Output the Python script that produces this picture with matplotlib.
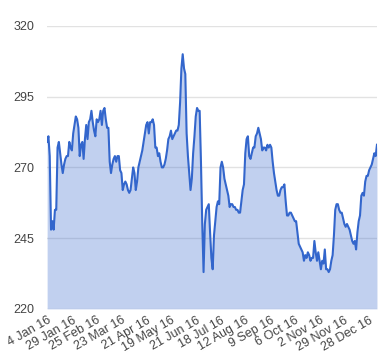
import matplotlib
matplotlib.use("Agg")
import matplotlib.pyplot as plt

# closing price per trading day
prices = [
    279, 281, 274, 248, 251, 248, 255, 255, 277, 279,
    275, 271, 268, 271, 273, 274, 274, 279, 277, 276,
    282, 285, 288, 287, 284, 274, 278, 279, 273, 280,
    285, 280, 286, 287, 290, 286, 283, 281, 287, 286,
    287, 290, 285, 290, 291, 287, 284, 284, 272, 268,
    271, 273, 274, 272, 274, 274, 269, 268, 262, 264,
    265, 264, 262, 261, 262, 266, 270, 268, 262, 265,
    270, 272, 274, 276, 279, 282, 285, 286, 282, 286,
    286, 287, 285, 277, 277, 274, 275, 272, 270, 270,
    271, 273, 276, 280, 281, 283, 280, 281, 282, 283,
    283, 285, 293, 305, 310, 305, 303, 282, 274, 268,
    262, 266, 275, 281, 288, 291, 290, 290, 272, 250,
    233, 250, 255, 256, 257, 247, 238, 234, 246, 251,
    256, 258, 257, 270, 272, 270, 266, 264, 262, 260,
    256, 257, 257, 256, 256, 255, 255, 254, 254, 258,
    262, 264, 275, 280, 281, 274, 273, 275, 277, 277,
    281, 282, 284, 282, 280, 276, 277, 277, 276, 278,
    277, 278, 277, 272, 268, 265, 262, 260, 260, 262,
    263, 263, 264, 258, 253, 253, 254, 254, 253, 252,
    251, 251, 247, 243, 242, 241, 240, 237, 239, 238,
    240, 239, 237, 238, 238, 244, 240, 237, 240, 237,
    234, 237, 236, 241, 234, 234, 233, 234, 237, 239,
    246, 255, 257, 257, 255, 254, 254, 252, 250, 249,
    250, 249, 248, 246, 244, 243, 244, 241, 247, 251,
    253, 260, 261, 260, 265, 267, 267, 269, 270, 271,
    273, 275, 274, 278,
]

date_labels = ["4 Jan 16", "29 Jan 16", "25 Feb 16", "23 Mar 16", "21 Apr 16",
               "19 May 16", "21 Jun 16", "18 Jul 16", "12 Aug 16", "9 Sep 16",
               "6 Oct 16", "2 Nov 16", "29 Nov 16", "28 Dec 16"]
label_step = 19

y_ticks = [220, 245, 270, 295, 320]

plt.rcParams["font.family"] = ["Liberation Sans", "DejaVu Sans"]

fig = plt.figure(figsize=(3.8, 3.6), dpi=100)
ax = fig.add_axes([0.124, 0.142, 0.868, 0.786])

x = list(range(len(prices)))
blue = "#3366cc"
ax.fill_between(x, prices, 220, color=blue, alpha=0.3, linewidth=0)
ax.plot(x, prices, color=blue, linewidth=1.5)

ax.set_xlim(0, len(prices) - 1)
ax.set_ylim(220, 320)
ax.set_yticks(y_ticks)
ax.set_xticks([i * label_step for i in range(len(date_labels))])
ax.set_xticklabels(date_labels, rotation=30, ha="right", rotation_mode="anchor")

ax.grid(axis="y", color="#e2e2e2", linewidth=1)
ax.set_axisbelow(True)
for s in ax.spines.values():
    s.set_visible(False)
ax.tick_params(axis="both", length=0, labelsize=9, colors="#444444")
ax.tick_params(axis="y", pad=9)
ax.tick_params(axis="x", pad=4)

fig.savefig("out.png", dpi=100)
